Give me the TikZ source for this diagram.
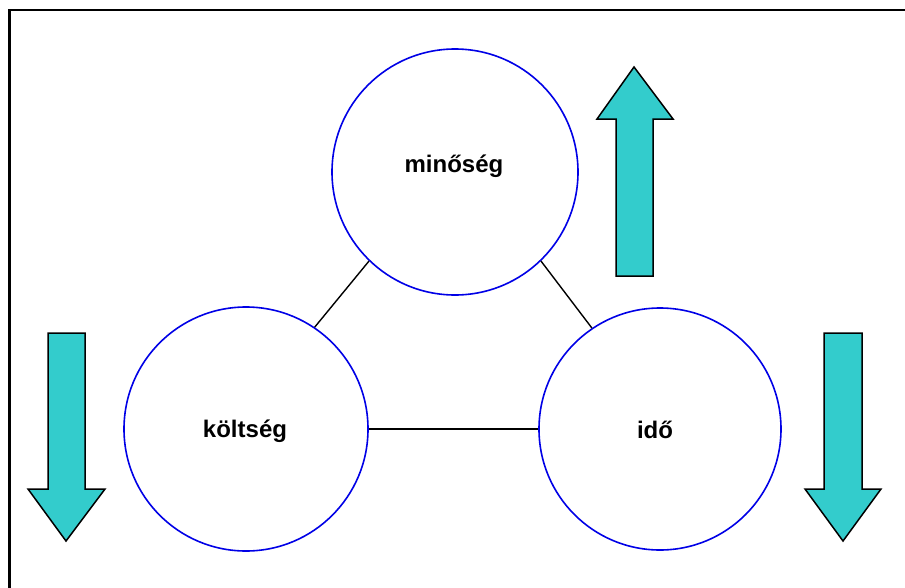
\documentclass[tikz,border=0pt]{standalone}
\usepackage{fontspec}
\setmainfont{Liberation Sans}
\definecolor{arrowfill}{RGB}{51,204,204}
\definecolor{ringblue}{RGB}{0,0,230}
\begin{document}
\begin{tikzpicture}[x=1pt,y=-1pt,
  ring/.style={draw=ringblue,line width=1.6pt,circle,minimum size=#1,inner sep=0pt},
  lbl/.style={font=\bfseries\fontsize{24}{28}\selectfont,inner sep=0pt},
  link/.style={draw=black,line width=1.4pt},
  bigarrow/.style={draw=black,fill=arrowfill,line width=1.5pt,line join=miter}]
\useasboundingbox (0,0) rectangle (905,587);
\clip (0,0) rectangle (905,587);
% outer frame (runs past the page on the right and bottom)
\draw[line width=2.6pt] (9.5,10) rectangle (915,600);

% the three circles
\node[ring=246pt] (q) at (455,172) {};
\node[ring=244pt] (c) at (246,429) {};
\node[ring=242pt] (t) at (660,429) {};

\node[lbl] (qlbl) at (454,166) {minőség};
\node[lbl] (clbl) at (245,431) {költség};
\node[lbl] (tlbl) at (655,430) {idő};

% connectors between the circles
\draw[link] (q.226) -- (c.56);
\draw[link] (q.-46) -- (t.124);
\draw[link] (c.east) -- (t.west);

% block arrows
\draw[bigarrow] (634,67) -- (673,119) -- (653,119) -- (653,276) -- (616,276)
  -- (616,119) -- (597,119) -- cycle;
\draw[bigarrow] (66,541) -- (105,489) -- (85,489) -- (85,333) -- (48,333)
  -- (48,489) -- (28,489) -- cycle;
\draw[bigarrow] (843,541) -- (881,489) -- (862,489) -- (862,333) -- (824,333)
  -- (824,489) -- (805,489) -- cycle;
\end{tikzpicture}
\end{document}
